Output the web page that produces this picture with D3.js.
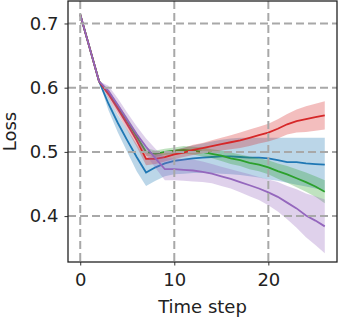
<!DOCTYPE html>
<html>
<head>
<meta charset="utf-8">
<script src="https://cdn.jsdelivr.net/npm/d3@7"></script>
<style>
  body { margin: 0; background: #fff; }
  svg { display: block; font-family: "DejaVu Sans", sans-serif; }
</style>
</head>
<body>
<div id="chart"></div>
<script>
// Time steps and tick values
const steps = [0,1,2,3,4,5,6,7,8,9,10,11,12,13,14,15,16,17,18,19,20,21,22,23,24,25,26];
const xTicks = [0, 10, 20];
const yTicks = [0.4, 0.5, 0.6, 0.7];

// Mean loss per series
const blueMean   = [0.714,0.662,0.610,0.575,0.545,0.518,0.492,0.468,0.476,0.482,0.486,0.488,0.490,0.491,0.492,0.493,0.493,0.492,0.491,0.491,0.490,0.487,0.484,0.484,0.482,0.481,0.480];
const greenMean  = [0.714,0.662,0.610,0.592,0.570,0.548,0.524,0.500,0.497,0.500,0.502,0.503,0.502,0.500,0.497,0.494,0.490,0.487,0.483,0.480,0.476,0.470,0.465,0.459,0.453,0.446,0.438];
const redMean    = [0.714,0.662,0.610,0.590,0.567,0.543,0.518,0.489,0.489,0.492,0.496,0.499,0.503,0.506,0.509,0.512,0.515,0.518,0.522,0.526,0.530,0.536,0.543,0.548,0.551,0.554,0.557];
const purpleMean = [0.714,0.662,0.610,0.595,0.573,0.550,0.528,0.508,0.490,0.473,0.473,0.472,0.471,0.469,0.466,0.462,0.458,0.453,0.448,0.443,0.437,0.430,0.421,0.412,0.401,0.393,0.384];

// Band spread below / above the mean
const blueBelow  = [0,0,0,0.010,0.015,0.018,0.022,0.021,0.021,0.020,0.021,0.022,0.023,0.024,0.025,0.027,0.028,0.028,0.029,0.031,0.033,0.032,0.032,0.035,0.036,0.038,0.040];
const blueAbove  = [0,0,0,0.010,0.013,0.017,0.020,0.022,0.019,0.016,0.017,0.019,0.020,0.022,0.024,0.026,0.028,0.030,0.031,0.031,0.032,0.035,0.038,0.038,0.040,0.041,0.042];
const greenSpread  = [0,0,0,0.004,0.005,0.006,0.006,0.006,0.005,0.005,0.005,0.006,0.006,0.007,0.007,0.008,0.009,0.009,0.010,0.010,0.011,0.012,0.013,0.014,0.015,0.016,0.018];
const redSpread    = [0,0,0,0.006,0.008,0.009,0.010,0.010,0.008,0.007,0.007,0.007,0.008,0.008,0.009,0.010,0.011,0.012,0.013,0.013,0.014,0.015,0.016,0.018,0.020,0.021,0.022];
const purpleSpread = [0,0,0,0.008,0.010,0.011,0.012,0.013,0.015,0.017,0.017,0.017,0.017,0.016,0.015,0.015,0.015,0.016,0.017,0.018,0.020,0.023,0.026,0.030,0.034,0.038,0.042];

const series = [
  { color: "#1f77b4", mean: blueMean,   below: blueBelow,    above: blueAbove },
  { color: "#2ca02c", mean: greenMean,  below: greenSpread,  above: greenSpread },
  { color: "#d62728", mean: redMean,    below: redSpread,    above: redSpread },
  { color: "#9467bd", mean: purpleMean, below: purpleSpread, above: purpleSpread }
];

const W = 342, H = 320;
const margin = { top: 1, right: 5, bottom: 58, left: 68 };
const width = W - margin.left - margin.right,
      height = H - margin.top - margin.bottom;

const svg = d3.select("#chart").append("svg")
  .attr("width", W)
  .attr("height", H);

const chart = svg.append("g")
  .attr("transform", `translate(${margin.left},${margin.top})`);

// Scales (matplotlib-style 5% padding)
const x = d3.scaleLinear().domain([-1.3, 27.3]).range([0, width]);
const y = d3.scaleLinear().domain([0.3285, 0.735]).range([height, 0]);

// Bands and lines
const area = d3.area()
  .x(d => x(d.t))
  .y0(d => y(d.lo))
  .y1(d => y(d.hi));
const line = d3.line()
  .x(d => x(d.t))
  .y(d => y(d.v));

series.forEach(s => {
  const pts = steps.map((t, i) => ({
    t: t,
    v: s.mean[i],
    lo: s.mean[i] - s.below[i],
    hi: s.mean[i] + s.above[i]
  }));
  chart.append("path")
    .datum(pts)
    .attr("d", area)
    .attr("fill", s.color)
    .attr("fill-opacity", 0.3);
  chart.append("path")
    .datum(pts)
    .attr("d", line)
    .attr("fill", "none")
    .attr("stroke", s.color)
    .attr("stroke-width", 1.8);
});

// Grid on top
const grid = chart.append("g")
  .attr("stroke", "#a8a8a8")
  .attr("stroke-width", 2)
  .attr("stroke-dasharray", "8,4");
grid.selectAll(".gx").data(xTicks).enter().append("line")
  .attr("x1", d => x(d)).attr("x2", d => x(d))
  .attr("y1", 0).attr("y2", height);
grid.selectAll(".gy").data(yTicks).enter().append("line")
  .attr("x1", 0).attr("x2", width)
  .attr("y1", d => y(d)).attr("y2", d => y(d));

// Axes
const xAxis = chart.append("g")
  .attr("transform", `translate(0,${height})`)
  .call(d3.axisBottom(x).tickValues(xTicks).tickSize(3.5).tickPadding(8));
const yAxis = chart.append("g")
  .call(d3.axisLeft(y).tickValues(yTicks).tickFormat(d3.format(".1f")).tickSize(3.5).tickPadding(6));
[xAxis, yAxis].forEach(a => {
  a.select(".domain").remove();
  a.selectAll("text").attr("font-size", 18).attr("fill", "#222").attr("font-family", "DejaVu Sans");
  a.selectAll("line").attr("stroke", "#333");
});

// Frame
chart.append("rect")
  .attr("width", width)
  .attr("height", height)
  .attr("fill", "none")
  .attr("stroke", "#222")
  .attr("stroke-width", 1.3);

// Axis labels
svg.append("text")
  .attr("x", margin.left + width / 2)
  .attr("y", 313)
  .attr("text-anchor", "middle")
  .attr("font-size", 18)
  .attr("fill", "#222")
  .text("Time step");

svg.append("text")
  .attr("transform", `translate(16,${margin.top + height / 2}) rotate(-90)`)
  .attr("text-anchor", "middle")
  .attr("font-size", 18)
  .attr("fill", "#222")
  .text("Loss");
</script>
</body>
</html>
